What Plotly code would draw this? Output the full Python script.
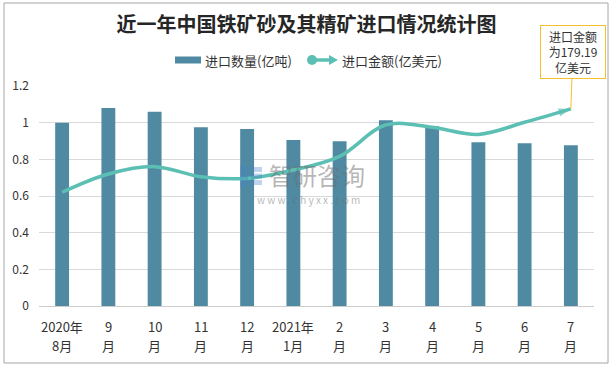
import plotly.graph_objects as go

categories = ["2020年8月", "9月", "10月", "11月", "12月", "2021年1月",
              "2月", "3月", "4月", "5月", "6月", "7月"]
tick_line1 = ["2020年", "9", "10", "11", "12", "2021年", "2", "3", "4", "5", "6", "7"]
tick_line2 = ["8月", "月", "月", "月", "月", "1月", "月", "月", "月", "月", "月", "月"]
quantity = [1.00, 1.08, 1.06, 0.975, 0.965, 0.905, 0.898, 1.013, 0.98, 0.893, 0.888, 0.877]
amount = [103.4, 120.0, 126.7, 117.6, 116.0, 123.6, 136.0, 164.6, 162.5, 156.0, 167.0, 179.19]
y_ticks = [0, 0.2, 0.4, 0.6, 0.8, 1, 1.2]
y_tick_text = ["0", "0.2", "0.4", "0.6", "0.8", "1", "1.2"]

bar_color = "#4f8aa2"
line_color = "#5bbfb3"

W, H = 615, 367
L, R, T, B = 39, 21, 86, 61
PW, PH = W - L - R, H - T - B


def px(x):
    return (x - L) / PW


def py(y):
    return (H - B - y) / PH


fig = go.Figure()
fig.add_trace(go.Bar(
    x=categories, y=quantity, name="进口数量(亿吨)",
    marker=dict(color=bar_color, line=dict(width=0)), width=0.3,
))
n = len(amount)
symbols = ["circle"] * (n - 1) + ["arrow"]
sizes = [11] + [0] * (n - 2) + [13]
fig.add_trace(go.Scatter(
    x=categories, y=amount, name="进口金额(亿美元)", yaxis="y2",
    mode="lines+markers",
    line=dict(color=line_color, width=3.5, shape="spline", smoothing=1.0),
    marker=dict(symbol=symbols, size=sizes, color=line_color, angleref="previous",
                line=dict(width=0)),
))

fig.update_layout(
    width=W, height=H,
    margin=dict(l=L, r=R, t=T, b=B, autoexpand=False),
    paper_bgcolor="white", plot_bgcolor="white",
    font=dict(family="Noto Sans CJK SC, sans-serif", color="#333333", size=12),
    title=dict(text="<b>近一年中国铁矿砂及其精矿进口情况统计图</b>", x=306.5 / W, xanchor="center",
               y=1 - 24.5 / H, yanchor="middle", xref="container", yref="container",
               font=dict(size=20, color="#262626", family="Noto Sans CJK SC, sans-serif")),
    showlegend=False,
    xaxis=dict(range=[-0.5, len(categories) - 0.5], showgrid=False, showline=False, ticks="",
               automargin=False, showticklabels=False),
    yaxis=dict(range=[0, 1.2], tickvals=y_ticks, ticktext=y_tick_text, automargin=False,
               showgrid=True, gridcolor="#d9d9d9", gridwidth=1, zeroline=True, zerolinecolor="#cccccc",
               zerolinewidth=1, showline=False, tickfont=dict(size=12, color="#333333"), ticks="",
               ticklabelstandoff=9),
    yaxis2=dict(range=[0, 200], overlaying="y", side="right", visible=False, showgrid=False),
)

# x tick labels (two lines each)
for cat, l1, l2 in zip(categories, tick_line1, tick_line2):
    fig.add_annotation(text=l1, x=cat, xref="x", yref="paper", y=py(326), yanchor="middle",
                       showarrow=False, font=dict(size=13, color="#333333"))
    fig.add_annotation(text=l2, x=cat, xref="x", yref="paper", y=py(345.5), yanchor="middle",
                       showarrow=False, font=dict(size=13, color="#333333"))

# custom legend
fig.add_shape(type="rect", xref="paper", yref="paper", x0=px(175), x1=px(201), y0=py(63.5), y1=py(56.5),
              fillcolor=bar_color, line=dict(width=0))
fig.add_annotation(text="进口数量(亿吨)", xref="paper", yref="paper", x=px(203), y=py(60),
                   xanchor="left", yanchor="middle", showarrow=False,
                   font=dict(size=13, color="#333333"))
fig.add_shape(type="line", xref="paper", yref="paper", x0=px(312), x1=px(331), y0=py(60), y1=py(60),
              line=dict(color=line_color, width=3.5))
fig.add_shape(type="circle", xref="paper", yref="paper", x0=px(307), x1=px(317), y0=py(65), y1=py(55),
              fillcolor=line_color, line=dict(width=0))
fig.add_shape(type="path", xref="paper", yref="paper",
              path=f"M {px(329)} {py(55)} L {px(338)} {py(60)} L {px(329)} {py(65)} Z",
              fillcolor=line_color, line=dict(width=0))
fig.add_annotation(text="进口金额(亿美元)", xref="paper", yref="paper", x=px(340), y=py(60),
                   xanchor="left", yanchor="middle", showarrow=False,
                   font=dict(size=13, color="#333333"))

# watermark
fig.add_annotation(text="智研咨询", xref="paper", yref="paper", x=px(267), y=py(174),
                   showarrow=False, font=dict(size=24, color="rgba(110,110,110,0.5)"),
                   xanchor="left", yanchor="middle")
fig.add_annotation(text="w w w . c h y x x . c o m", xref="paper", yref="paper", x=px(308), y=py(199),
                   showarrow=False, font=dict(size=10, color="rgba(110,110,110,0.5)"),
                   xanchor="center", yanchor="middle")
fig.add_shape(type="rect", xref="paper", yref="paper", x0=px(240), x1=px(248), y0=py(187), y1=py(166),
              fillcolor="rgba(70,130,200,0.35)", line=dict(width=0))
for yy in (167, 173.5, 180):
    fig.add_shape(type="rect", xref="paper", yref="paper", x0=px(251), x1=px(262), y0=py(yy + 5), y1=py(yy),
                  fillcolor="rgba(70,130,200,0.35)", line=dict(width=0))

# callout
fig.add_annotation(text="进口金额<br>为179.19<br>亿美元", x=categories[-1], y=amount[-1], yref="y2",
                   ax=2, ay=-57, showarrow=True, arrowhead=0, arrowwidth=1, arrowcolor="#f5c030",
                   bordercolor="#f5c030", borderwidth=1, borderpad=3, bgcolor="white",
                   width=58, height=46,
                   font=dict(size=12, color="#333333"), align="center")

# outer border
fig.add_shape(type="rect", xref="paper", yref="paper",
              x0=px(4), x1=px(608), y0=py(363), y1=py(3),
              line=dict(color="#a6a6a6", width=1))

fig.write_html("out.html", config={"displayModeBar": False},
               post_script="document.body.style.margin='0';")
